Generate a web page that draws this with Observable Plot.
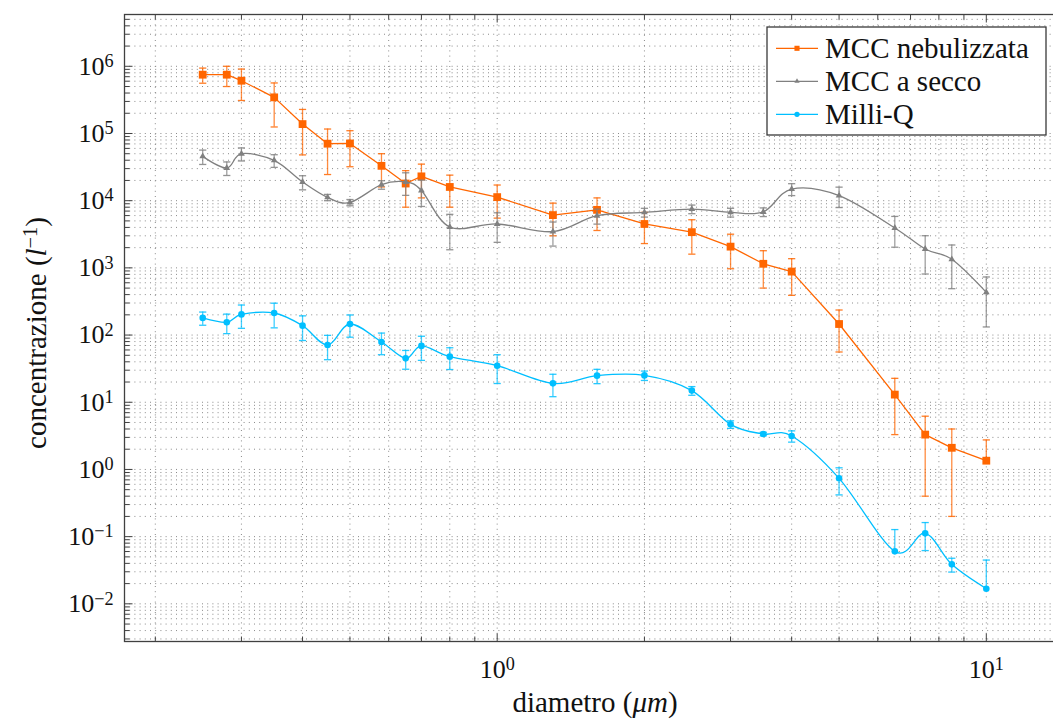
<!DOCTYPE html>
<html><head><meta charset="utf-8">
<script src="https://cdn.jsdelivr.net/npm/d3@7"></script>
<script src="https://cdn.jsdelivr.net/npm/@observablehq/plot@0.6"></script>
<style>
html,body{margin:0;padding:0;background:#fff;overflow:hidden;}
#wrap{position:relative;width:1053px;height:719px;overflow:hidden;}
#chart svg{display:block;max-width:none !important;}
#legend{position:absolute;left:766px;top:26px;}
</style></head><body><div id="wrap"><div id="chart"></div><svg id="legend" width="282" height="112"></svg></div>
<script>
const diameters = [0.25,0.28,0.30,0.35,0.40,0.45,0.50,0.58,0.65,0.70,0.80,1.0,1.3,1.6,2.0,2.5,3.0,3.5,4.0,5.0,6.5,7.5,8.5,10];

const nebulizzata    = [7.5e5,7.5e5,6.1e5,3.45e5,1.38e5,7.05e4,7.1e4,3.3e4,1.8e4,2.3e4,1.6e4,1.13e4,6.1e3,7.3e3,4.5e3,3.4e3,2.07e3,1.15e3,880,146,13,3.3,2.1,1.35];
const nebulizzataErr = [1.9e5,2.5e5,3.0e5,2.2e5,9e4,4.6e4,3.9e4,1.7e4,1.0e4,1.2e4,8e3,5.8e3,3.1e3,3.7e3,2.2e3,1.8e3,1.1e3,650,490,90,9.7,2.9,1.9,1.4];

const secco    = [4.56e4,3.07e4,5.0e4,3.98e4,1.9e4,1.12e4,9.4e3,1.73e4,1.9e4,1.42e4,4.06e3,4.5e3,3.46e3,5.98e3,6.7e3,7.5e3,6.7e3,6.8e3,1.49e4,1.19e4,3.93e3,1.91e3,1.34e3,432];
const seccoErr = [1.1e4,7e3,1.1e4,8.5e3,4.5e3,1.2e3,1e3,2.5e3,7e3,6e3,2.2e3,2.1e3,1.35e3,1.5e3,1e3,1.1e3,1e3,1e3,3e3,4e3,1.9e3,1.1e3,850,300];

const milliQ    = [180,155,203,213,138,71,146,79,45,69,47.7,35,19.1,24.9,25.1,14.9,4.69,3.37,3.15,0.738,0.0604,0.112,0.0387,0.0168];
const milliQErr = [40,50,77,85,55,28,53,28,14,27,17,16,7,6,4,2.2,0.6,0.2,0.6,0.32,0.067,0.05,0.009,0.028];

const seriesNames   = ["MCC nebulizzata","MCC a secco","Milli-Q"];
const seriesColors  = ["#ff6600","#808080","#00bfff"];
const seriesSymbols = ["square","triangle","circle"];
const seriesR       = [4.4,2.5,3.3];
const seriesCurves  = ["linear","cardinal","cardinal"];

const xTickValues = [1,10];
const yTickValues = [1e-2,1e-1,1,1e1,1e2,1e3,1e4,1e5,1e6];
const xDomain = [0.173,14.45];
const yDomain = [0.00275,5.9e6];

function logGrid(domain){
  const out=[];
  for(let k=-4;k<=8;k++) for(let m=1;m<=9;m++){ const v=m*Math.pow(10,k); if(v>=domain[0]&&v<=domain[1]) out.push(v); }
  return out;
}
const isMajor = v => Math.abs(Math.log10(v)-Math.round(Math.log10(v)))<1e-9;
const xGrid = logGrid(xDomain), yGrid = logGrid(yDomain);
const xMajor = xGrid.filter(isMajor), xMinor = xGrid.filter(v=>!isMajor(v));
const yMajor = yGrid.filter(isMajor), yMinor = yGrid.filter(v=>!isMajor(v));

const allValues = [nebulizzata, secco, milliQ];
const allErrors = [nebulizzataErr, seccoErr, milliQErr];

const cap = {draw(ctx){ ctx.moveTo(-3.6,0); ctx.lineTo(3.6,0); }};
const tickRight = L => ({draw(ctx){ ctx.moveTo(0,0); ctx.lineTo(L,0); }});
const tickDown  = L => ({draw(ctx){ ctx.moveTo(0,0); ctx.lineTo(0,L); }});
const tickUp    = L => ({draw(ctx){ ctx.moveTo(0,0); ctx.lineTo(0,-L); }});

const marks = [];
marks.push(Plot.ruleY(yGrid,{y:d=>d,stroke:"#8a8a8a",strokeWidth:1,strokeDasharray:"1,4.2"}));
marks.push(Plot.ruleX(xGrid,{x:d=>d,stroke:"#8a8a8a",strokeWidth:1,strokeDasharray:"1,4.2"}));

allValues.forEach((vals,i)=>{
  const rows = diameters.map((d,j)=>{
    const y=vals[j], e=allErrors[i][j];
    return {x:d,y,hi:y+e,lo:(y-e>0? y-e : y),hasLo:y-e>0};
  });
  const color = seriesColors[i];
  marks.push(Plot.line(rows,{x:"x",y:"y",stroke:color,strokeWidth:1.3,curve:seriesCurves[i]}));
  marks.push(Plot.ruleX(rows,{x:"x",y1:"lo",y2:"hi",stroke:color,strokeWidth:1.3,strokeOpacity:0.75}));
  marks.push(Plot.dot(rows,{x:"x",y:"hi",symbol:cap,stroke:color,fill:"none",strokeWidth:1.3,strokeOpacity:0.85}));
  marks.push(Plot.dot(rows.filter(r=>r.hasLo),{x:"x",y:"lo",symbol:cap,stroke:color,fill:"none",strokeWidth:1.3,strokeOpacity:0.85}));
  marks.push(Plot.dot(rows,{x:"x",y:"y",symbol:seriesSymbols[i],fill:color,stroke:"none",r:seriesR[i]}));
});

const tickStyle = {stroke:"#404040",fill:"none",strokeWidth:1};
marks.push(Plot.dot(yMinor,{x:()=>xDomain[0],y:d=>d,symbol:tickRight(5),...tickStyle}));
marks.push(Plot.dot(yMajor,{x:()=>xDomain[0],y:d=>d,symbol:tickRight(8),...tickStyle}));
marks.push(Plot.dot(xMinor,{x:d=>d,y:()=>yDomain[1],symbol:tickDown(5),...tickStyle}));
marks.push(Plot.dot(xMajor,{x:d=>d,y:()=>yDomain[1],symbol:tickDown(8),...tickStyle}));
marks.push(Plot.dot(xMinor,{x:d=>d,y:()=>yDomain[0],symbol:tickUp(5),...tickStyle}));
marks.push(Plot.dot(xMajor,{x:d=>d,y:()=>yDomain[0],symbol:tickUp(8),...tickStyle}));
marks.push(Plot.frame({stroke:"#404040",strokeWidth:1.3}));

const powFormat = v => "10^"+Math.round(Math.log10(v));
marks.push(Plot.axisY({ticks:yTickValues,tickSize:0,tickPadding:11,label:null,fontSize:26,tickFormat:powFormat}));
marks.push(Plot.axisX({ticks:xTickValues,tickSize:0,tickPadding:18,label:null,fontSize:26,tickFormat:powFormat}));

const chart = Plot.plot({
  width:1066,height:719,
  marginLeft:124,marginRight:2,marginTop:14,marginBottom:78,
  style:{fontFamily:"'Liberation Serif',serif",fontSize:"26px",color:"#111",background:"#fff",overflow:"visible",maxWidth:"none"},
  x:{type:"log",domain:xDomain,range:[124,1064]},
  y:{type:"log",domain:yDomain,range:[641,14]},
  marks
});
document.getElementById("chart").appendChild(chart);

const svg = d3.select(chart);
svg.selectAll('g[aria-label="y-axis tick label"] text, g[aria-label="x-axis tick label"] text').each(function(){
  const s = this.textContent; const parts = s.split("^");
  if(parts.length<2) return;
  const t = d3.select(this); t.text(null);
  t.append("tspan").text(parts[0]);
  t.append("tspan").attr("dy","-0.42em").attr("font-size","0.7em").text(parts[1].replace("-","\u2212"));
});

svg.append("text").attr("x",595).attr("y",712).attr("text-anchor","middle")
  .attr("font-family","'Liberation Serif',serif").attr("font-size",29).attr("fill","#111")
  .call(t=>{ t.append("tspan").text("diametro ("); t.append("tspan").attr("font-style","italic").text("\u03bcm"); t.append("tspan").text(")"); });
svg.append("text").attr("transform","translate(46,333) rotate(-90)").attr("text-anchor","middle")
  .attr("font-family","'Liberation Serif',serif").attr("font-size",29).attr("fill","#111")
  .call(t=>{ t.append("tspan").text("concentrazione (");
             t.append("tspan").attr("font-style","italic").text("l");
             t.append("tspan").attr("dy","-0.42em").attr("font-size","0.7em").text("\u22121");
             t.append("tspan").attr("dy","0.294em").text(")"); });

// legend (SVG overlay)
const legend = d3.select("#legend");
legend.append("rect").attr("x",1).attr("y",1).attr("width",279).attr("height",108)
  .attr("fill","#fff").attr("stroke","#3a3a3a").attr("stroke-width",1.3);
seriesNames.forEach((name,i)=>{
  const cy = 22.3 + 33*i;
  legend.append("line").attr("x1",10).attr("x2",52).attr("y1",cy).attr("y2",cy).attr("stroke",seriesColors[i]).attr("stroke-width",1.3);
  legend.append("path").attr("transform",`translate(31,${cy})`).attr("fill",seriesColors[i])
    .attr("d",d3.symbol(i===0?d3.symbolSquare:i===1?d3.symbolTriangle:d3.symbolCircle, i===0?26:i===1?12:22)());
  legend.append("text").attr("x",59).attr("y",cy+10).attr("font-family","'Liberation Serif',serif")
    .attr("font-size",29).attr("fill","#111").text(name);
});
</script>
</body></html>
